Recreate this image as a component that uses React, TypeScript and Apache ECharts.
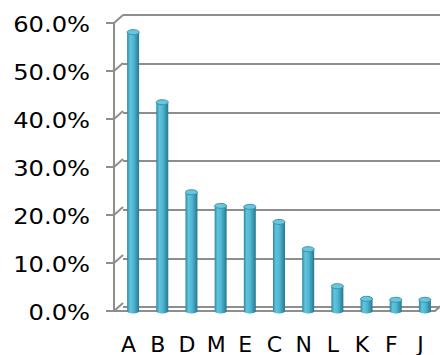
import React, { useEffect, useRef } from "react";
import * as echarts from "echarts";

const categories = ["A", "B", "D", "M", "E", "C", "N", "L", "K", "F", "J"];
const values = [57.3, 42.9, 24.4, 21.6, 21.4, 18.3, 12.7, 5.1, 2.5, 2.3, 2.3];
const yTicks = [0, 10, 20, 30, 40, 50, 60];
const yTickLabels = ["0.0%", "10.0%", "20.0%", "30.0%", "40.0%", "50.0%", "60.0%"];

const GRAY = "#8e8e8e";
const FONT = "DejaVu Sans";

export default function App() {
  const ref = useRef<HTMLDivElement>(null);
  useEffect(() => {
    if (!ref.current) return;
    const chart = echarts.init(ref.current, null, { renderer: "svg" });
    const grids = [
      { left: 114, top: 23, width: 321, height: 292 },
      { left: 123, top: 15, width: 321, height: 292 },
      { left: 118.5, top: 19, width: 321, height: 292 },
    ];
    const yBase = { type: "value", min: 0, max: 60, interval: 10 } as any;
    const barGrad = new echarts.graphic.LinearGradient(0, 0, 1, 0, [
      { offset: 0, color: "#2d8aa3" },
      { offset: 0.25, color: "#62c4de" },
      { offset: 0.55, color: "#4fb6d1" },
      { offset: 1, color: "#287790" },
    ]);
    chart.setOption({
      animation: false,
      grid: grids,
      xAxis: [
        {
          gridIndex: 0,
          type: "category",
          data: categories,
          axisLine: { lineStyle: { color: GRAY, width: 2 } },
          axisTick: { length: 7, lineStyle: { color: GRAY, width: 2 } },
          axisLabel: { fontSize: 22, fontFamily: FONT, color: "#000", margin: 22 },
        },
        { gridIndex: 1, type: "category", data: categories, show: false },
        { gridIndex: 2, type: "category", data: categories, show: false },
      ],
      yAxis: [
        {
          ...yBase,
          gridIndex: 0,
          axisLine: { show: true, lineStyle: { color: GRAY, width: 2 } },
          axisTick: { show: true, length: 8, lineStyle: { color: GRAY, width: 2 } },
          axisLabel: { show: false },
          splitLine: { show: false },
        },
        {
          ...yBase,
          gridIndex: 1,
          axisLine: { show: false },
          axisTick: { show: false },
          axisLabel: { show: false },
          splitLine: { show: true, lineStyle: { color: GRAY, width: 2 } },
        },
        {
          ...yBase,
          gridIndex: 2,
          axisLine: { show: false },
          axisTick: { show: false },
          axisLabel: { show: false },
          splitLine: { show: false },
        },
      ],
      series: [
        {
          type: "custom",
          xAxisIndex: 0,
          yAxisIndex: 0,
          silent: true,
          clip: false,
          data: yTicks.map((v, i) => [0, v, i]),
          renderItem: (params: any, api: any) => {
            const cs = params.coordSys;
            const v = api.value(1);
            const idx = api.value(2);
            const y = api.coord([0, v])[1];
            const children: any[] = [
              {
                type: "line",
                shape: { x1: cs.x, y1: y, x2: cs.x + 9, y2: y - 8 },
                style: { stroke: GRAY, lineWidth: 2 },
              },
              {
                type: "text",
                x: cs.x - 24,
                y: y + 1,
                scaleX: 1.1,
                style: {
                  text: yTickLabels[idx],
                  font: `22px "${FONT}"`,
                  fill: "#000",
                  align: "right",
                  verticalAlign: "middle",
                },
              },
            ];
            if (v === 0) {
              children.push({
                type: "line",
                shape: { x1: cs.x + cs.width, y1: y, x2: cs.x + cs.width + 9, y2: y - 8 },
                style: { stroke: GRAY, lineWidth: 2 },
              });
            }
            return { type: "group", children };
          },
        },
        {
          type: "custom",
          xAxisIndex: 2,
          yAxisIndex: 2,
          silent: true,
          clip: false,
          data: values.map((v, i) => [i, v]),
          renderItem: (params: any, api: any) => {
            const top = api.coord([api.value(0), api.value(1)]);
            const base = api.coord([api.value(0), 0]);
            const hw = 6;
            const ry = 2.5;
            return {
              type: "group",
              children: [
                {
                  type: "ellipse",
                  shape: { cx: base[0], cy: base[1], rx: hw, ry },
                  style: { fill: barGrad },
                },
                {
                  type: "rect",
                  shape: { x: top[0] - hw, y: top[1], width: hw * 2, height: base[1] - top[1] },
                  style: { fill: barGrad },
                },
                {
                  type: "ellipse",
                  shape: { cx: top[0], cy: top[1], rx: hw, ry },
                  style: { fill: "#6ac6de", stroke: "#3892ab", lineWidth: 1 },
                },
              ],
            };
          },
        },
      ],
    });
    return () => chart.dispose();
  }, []);
  return (
    <div
      ref={ref}
      style={{ position: "fixed", left: 0, top: 0, width: 440, height: 355, background: "#fff" }}
    />
  );
}
